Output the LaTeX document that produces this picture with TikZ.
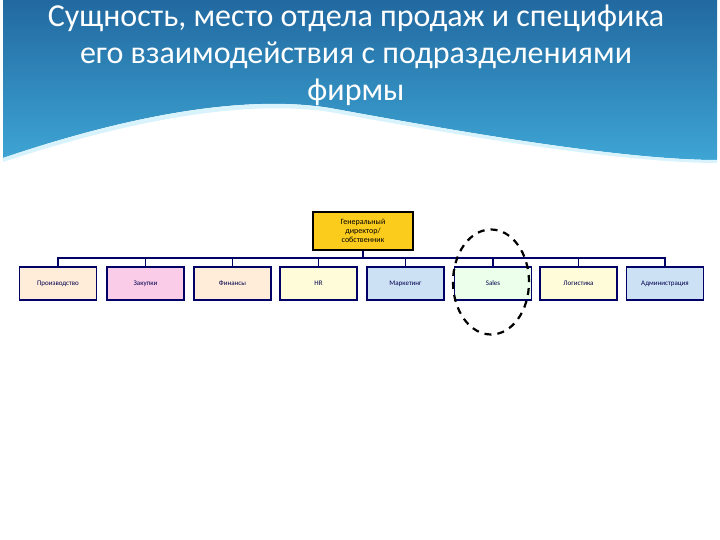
\documentclass[tikz,border=0pt]{standalone}
\usepackage{fontspec}
\usetikzlibrary{shapes.geometric}
\setmainfont{Carlito}
\definecolor{bantop}{RGB}{33,105,160}
\definecolor{banbot}{RGB}{62,165,212}
\definecolor{lblue}{RGB}{205,225,245}
\begin{document}
\begin{tikzpicture}[x=1pt,y=-1pt,
  dept/.style={draw=blue!40!black,line width=1.2pt,minimum width=77pt,minimum height=33pt,inner sep=0pt,font=\fontsize{7}{8}\selectfont,text=blue!30!black},
  link/.style={draw=blue!40!black,line width=1.2pt}]
\useasboundingbox (0,0) rectangle (720,540);
\shade[top color=bantop, bottom color=banbot]
  (3,0) -- (717,0) -- (717,160) .. controls (620,160) and (450,130) .. (330,108)
  .. controls (230,92) and (100,125) .. (3,158) -- cycle;
\fill[cyan!15] (3,158) .. controls (100,125) and (230,92) .. (330,108) .. controls (450,130) and (620,160) .. (717,160) -- (717,163) .. controls (620,163) and (450,134) .. (330,112) .. controls (230,97) and (100,130) .. (3,162) -- cycle;
\node[text=white,font=\fontsize{32}{37}\selectfont,align=center] (title) at (356,55)
  {Сущность, место отдела продаж и специфика\\его взаимодействия с подразделениями\\фирмы};
\node[draw=black,line width=1.2pt,fill=yellow!60!orange!90,minimum width=100pt,minimum height=38pt,inner sep=0pt,align=center,font=\fontsize{8}{9}\selectfont] (top) at (363,231) {Генеральный\\директор/\\собственник};
\node[dept,fill=orange!15] (d1) at (58,283.5) {Производство};
\node[dept,fill=magenta!20] (d2) at (145.5,283.5) {Закупки};
\node[dept,fill=orange!15] (d3) at (232.5,283.5) {Финансы};
\node[dept,fill=yellow!15] (d4) at (318.5,283.5) {HR};
\node[dept,fill=lblue] (d5) at (405.5,283.5) {Маркетинг};
\node[dept,fill=green!8] (d6) at (493,283.5) {Sales};
\node[dept,fill=yellow!15] (d7) at (578.5,283.5) {Логистика};
\node[dept,fill=lblue] (d8) at (665,283.5) {Администрация};
\coordinate (bus) at (363,258);
\draw[link] (top.south) -- (bus);
\draw[link] (d1.north) |- (bus) -| (d8.north);
\foreach \d in {d2,d3,d4,d5,d6,d7} \draw[link] (\d.north) -- (\d.north |- bus);
\node[draw=black,line width=2.2pt,dash pattern=on 7pt off 6pt,ellipse,inner sep=0pt,minimum width=76pt,minimum height=105pt] (circ) at (491,282) {};
\end{tikzpicture}
\end{document}
